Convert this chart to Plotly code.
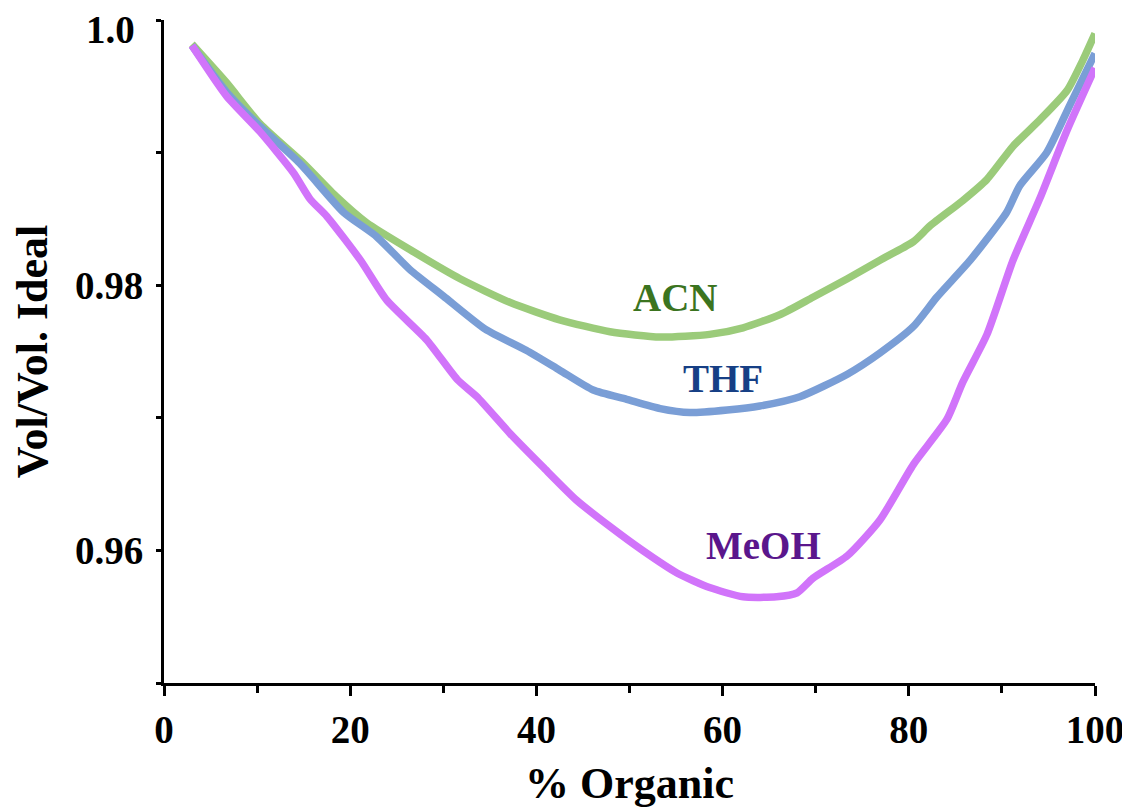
import plotly.graph_objects as go

# % organic (x) and Vol/Vol ideal (y) for each solvent
acn_x = [3, 6.7, 10.3, 15.0, 18.5, 21.8, 26.4, 31.8, 37.2, 42.5, 47.9, 53.3, 58.6, 62.2,
         66.2, 69.7, 73.4, 76.9, 80.5, 82.3, 85.8, 88.4, 91.2, 94.1, 97.0, 98.7, 100]
acn_y = [0.9982, 0.9953, 0.9922, 0.9892, 0.9867, 0.9847, 0.9827, 0.9805, 0.9787, 0.9774,
         0.9765, 0.9761, 0.9763, 0.9768, 0.9778, 0.9791, 0.9805, 0.9819, 0.9833, 0.9845,
         0.9864, 0.9880, 0.9905, 0.9925, 0.9947, 0.9970, 0.9990]

thf_x = [3, 6.7, 10.3, 14.6, 19.3, 22.8, 26.4, 30.0, 34.5, 38.9, 42.5, 46.1, 49.7, 53.3,
         56.5, 60.5, 64.0, 68.3, 73.4, 76.9, 80.5, 83.0, 86.6, 90.5, 91.9, 94.8, 97.3, 100]
thf_y = [0.9981, 0.9946, 0.9920, 0.9892, 0.9855, 0.9837, 0.9812, 0.9792, 0.9767, 0.9751,
         0.9736, 0.9721, 0.9714, 0.9707, 0.9704, 0.9706, 0.9709, 0.9716, 0.9733, 0.9749,
         0.9769, 0.9791, 0.9819, 0.9855, 0.9875, 0.9900, 0.9936, 0.9975]

meoh_x = [3, 6.7, 10.3, 13.9, 15.7, 17.5, 21.1, 23.9, 28.2, 31.5, 33.6, 37.2, 40.7, 44.3,
          47.9, 51.4, 55.1, 58.6, 62.2, 65.8, 68.0, 69.7, 73.4, 76.9, 80.5, 84.1, 85.8,
          88.4, 91.2, 94.1, 97.0, 100]
meoh_y = [0.9981, 0.9943, 0.9916, 0.9885, 0.9865, 0.9852, 0.9819, 0.9789, 0.9759, 0.9729,
          0.9716, 0.9688, 0.9663, 0.9638, 0.9618, 0.9600, 0.9583, 0.9572, 0.9565, 0.9565,
          0.9568, 0.9579, 0.9596, 0.9623, 0.9665, 0.9699, 0.9727, 0.9763, 0.9819, 0.9866,
          0.9917, 0.9964]

y_tickvals = [0.96, 0.98, 1.0]
y_ticktext = ["0.96", "0.98", ""]
y_top_label = "1.0"
x_tickvals = [0, 20, 40, 60, 80, 100]

labels = ["ACN", "THF", "MeOH"]
label_x = [54.9, 60.0, 64.4]
label_y = [0.9791, 0.9730, 0.9604]
label_colors = ["#3b741f", "#163f85", "#5a168c"]

series = [
    (acn_x, acn_y, "#9bcb7a"),
    (thf_x, thf_y, "#7a9ed6"),
    (meoh_x, meoh_y, "#d174fa"),
]

FONT = "Liberation Serif, Times New Roman, serif"
TICKSIZE = 39

fig = go.Figure()
for xs, ys, col in series:
    fig.add_trace(go.Scatter(x=xs, y=ys, mode="lines",
                             line=dict(color=col, width=7.5, shape="spline", smoothing=0.6),
                             showlegend=False, hoverinfo="skip"))

for t, lx, ly, c in zip(labels, label_x, label_y, label_colors):
    fig.add_annotation(x=lx, y=ly, text=t, showarrow=False,
                       font=dict(family=FONT, size=39, color=c, weight="bold"))

# top y tick label, nudged down to stay inside the page like the original
fig.add_annotation(xref="paper", x=-0.0295, xanchor="right", yref="y", y=y_tickvals[-1],
                   yanchor="middle", yshift=-9, text=y_top_label, showarrow=False,
                   font=dict(family=FONT, size=TICKSIZE, color="black", weight="bold"))

fig.update_layout(
    width=1130, height=807,
    margin=dict(l=156, r=43, t=12, b=132),
    paper_bgcolor="white", plot_bgcolor="white",
    font=dict(family=FONT, color="black"),
)

fig.update_xaxes(
    range=[0, 100], showgrid=False, zeroline=False,
    showline=True, linecolor="black", linewidth=3,
    tickmode="array", tickvals=x_tickvals,
    ticks="outside", ticklen=10, tickwidth=3, tickcolor="black",
    ticklabelstandoff=0,
    minor=dict(dtick=10, tick0=0, ticks="outside", ticklen=7, tickwidth=3, tickcolor="black", showgrid=False),
    tickfont=dict(family=FONT, size=TICKSIZE, color="black", weight="bold"),
    title=dict(text="% Organic", standoff=18,
               font=dict(family=FONT, size=44, color="black", weight="bold")),
    automargin=False,
)
fig.update_yaxes(
    range=[0.95, 1.00002], showgrid=False, zeroline=False,
    showline=True, linecolor="black", linewidth=3,
    tickmode="array", tickvals=y_tickvals, ticktext=y_ticktext,
    ticks="outside", ticklen=5, tickwidth=3, tickcolor="black",
    ticklabelstandoff=5,
    minor=dict(dtick=0.01, tick0=0.95, ticks="outside", ticklen=5, tickwidth=3, tickcolor="black", showgrid=False),
    tickfont=dict(family=FONT, size=TICKSIZE, color="black", weight="bold"),
    title=dict(text="Vol/Vol. Ideal", standoff=16,
               font=dict(family=FONT, size=44, color="black", weight="bold")),
    automargin=False,
)

fig.write_html("out.html")
